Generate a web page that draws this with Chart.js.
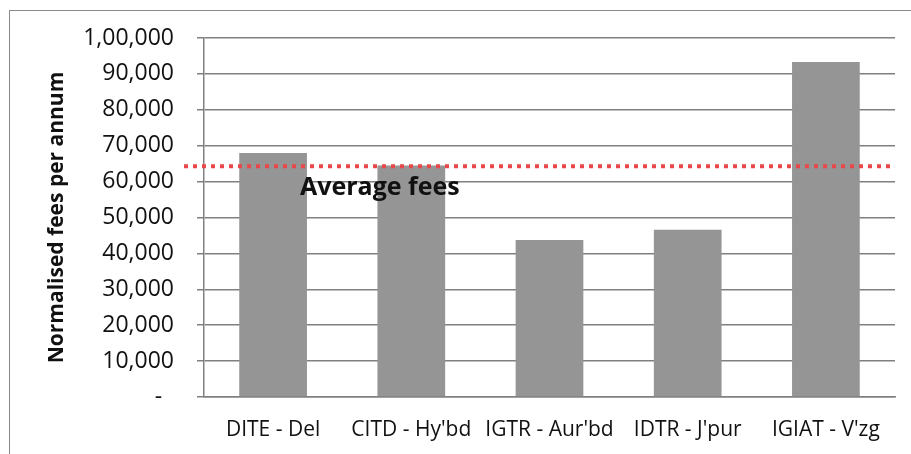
<!DOCTYPE html>
<html>
<head>
<meta charset="utf-8">
<script src="https://cdn.jsdelivr.net/npm/chart.js@4/dist/chart.umd.min.js"></script>
<style>
  html, body { margin: 0; padding: 0; background: #fff; }
  #wrap { position: relative; width: 911px; height: 454px; overflow: hidden; }
  #frame { position: absolute; left: 9px; top: 10px; width: 920px; height: 460px;
           border-left: 1.5px solid #8a8a8a; border-top: 1.5px solid #8a8a8a; pointer-events: none; }
</style>
</head>
<body>
<div id="wrap">
  <canvas id="chart" width="911" height="454"></canvas>
  <div id="frame"></div>
</div>
<script>
  // values
  const institutes = ['DITE - Del', "CITD - Hy'bd", "IGTR - Aur'bd", "IDTR - J'pur", "IGIAT - V'zg"];
  const fees = [68000, 64500, 43700, 46600, 93300];
  const averageFee = 64300;
  const averageLabel = 'Average fees';
  const yTicks = [0, 10000, 20000, 30000, 40000, 50000, 60000, 70000, 80000, 90000, 100000];

  // Indian digit grouping, zero shown as a dash (accounting style)
  function indianFormat(v) {
    if (v === 0) return '-  ';
    const s = String(Math.round(v));
    const last3 = s.slice(-3);
    let rest = s.slice(0, -3);
    if (!rest) return last3;
    rest = rest.replace(/\B(?=(\d{2})+(?!\d))/g, ',');
    return rest + ',' + last3;
  }

  const averagePlugin = {
    id: 'averageLine',
    afterDatasetsDraw(chart) {
      const ctx = chart.ctx;
      const y = chart.scales.y.getPixelForValue(averageFee);
      const area = chart.chartArea;
      ctx.save();
      ctx.strokeStyle = 'rgb(232, 72, 72)';
      ctx.lineWidth = 4;
      ctx.setLineDash([4, 5]);
      ctx.beginPath();
      ctx.moveTo(area.left - 20, y);
      ctx.lineTo(area.right - 2, y);
      ctx.stroke();
      ctx.setLineDash([]);
      ctx.fillStyle = '#111';
      ctx.font = 'bold 25px "Open Sans"';
      ctx.textAlign = 'left';
      ctx.textBaseline = 'alphabetic';
      ctx.fillText(averageLabel, area.left + 96, y + 29);
      ctx.restore();
    }
  };

  const ctx = document.getElementById('chart');

  const chart = new Chart(ctx, {
    type: 'bar',
    data: {
      labels: institutes,
      datasets: [
        {
          label: 'Normalised fees per annum',
          data: fees,
          backgroundColor: '#959595',
          borderWidth: 0,
          barPercentage: 0.7,
          categoryPercentage: 0.7
        }
      ]
    },
    options: {
      responsive: false,
      animation: false,
      layout: { padding: { top: 38, right: 16, bottom: 0, left: 0 } },
      plugins: {
        legend: { display: false },
        tooltip: { enabled: false }
      },
      scales: {
        x: {
          grid: { display: false, drawTicks: false },
          border: { display: true, color: '#808080', width: 1.5 },
          ticks: {
            autoSkip: false,
            maxRotation: 0,
            minRotation: 0,
            padding: 20,
            color: '#111',
            font: { family: 'Open Sans', size: 21 }
          },
          afterFit(scale) { scale.height = 57; }
        },
        y: {
          min: 0,
          max: 100000,
          afterBuildTicks(scale) { scale.ticks = yTicks.map(v => ({ value: v })); },
          grid: { color: '#808080', lineWidth: 1.5, tickLength: 7 },
          border: { display: true, color: '#808080', width: 1.5 },
          ticks: {
            padding: 23,
            color: '#111',
            font: { family: 'Open Sans', size: 23 },
            callback: (v) => indianFormat(v)
          },
          title: {
            display: true,
            text: 'Normalised fees per annum',
            color: '#111',
            font: { family: 'Open Sans', size: 21, weight: 'bold' },
            padding: { top: 44, bottom: 0 }
          },
          afterFit(scale) { scale.width = 204; }
        }
      }
    },
    plugins: [averagePlugin]
  });
</script>
</body>
</html>
